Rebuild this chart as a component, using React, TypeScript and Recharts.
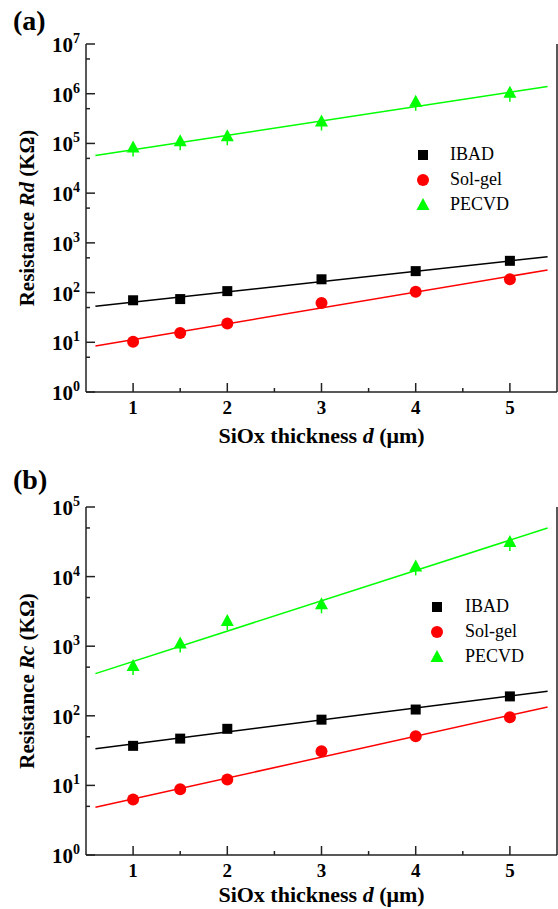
import { ScatterChart, Scatter, XAxis, YAxis, Legend, ReferenceLine } from "recharts";

// SiOx thickness d (um)
const thickness = [1, 1.5, 2, 3, 4, 5];
const fitX = [0.6, 5.4];

// (a) Rd, KOhm
const rdIbad = [70, 74, 107, 185, 270, 435];
const rdSolgel = [10.2, 15.3, 24, 62, 104, 186];
const rdPecvd = [83000, 110000, 140000, 275000, 690000, 1050000];
const rdIbadFit = [53, 525];
const rdSolgelFit = [8.4, 285];
const rdPecvdFit = [57000, 1400000];

// (b) Rc, KOhm
const rcIbad = [37, 47, 65, 88, 123, 190];
const rcSolgel = [6.25, 8.8, 12.2, 31, 51, 95];
const rcPecvd = [520, 1090, 2300, 4000, 14000, 31400];
const rcIbadFit = [33.7, 225];
const rcSolgelFit = [4.84, 134];
const rcPecvdFit = [404, 49900];

const xTicks = [1, 1.5, 2, 2.5, 3, 3.5, 4, 4.5, 5];
const yTicksA = [1, 5, 10, 50, 100, 500, 1e3, 5e3, 1e4, 5e4, 1e5, 5e5, 1e6, 5e6, 1e7];
const yTicksB = [1, 5, 10, 50, 100, 500, 1e3, 5e3, 1e4, 5e4, 1e5];

const FONT = "'Liberation Serif', 'DejaVu Serif', serif";
const AXIS = "#222";
const GREEN = "#00ff00";
const RED = "#ff0000";

const pts = (xs: number[], ys: number[]) => xs.map((x, i) => ({ x, y: ys[i] }));

const Square = (p: any) => <rect x={p.cx - 5} y={p.cy - 5} width={10} height={10} fill="#000" />;
const Circle = (p: any) => <circle cx={p.cx} cy={p.cy} r={6} fill={RED} />;
const Triangle = (p: any) => (
  <g>
    <line x1={p.cx} x2={p.cx} y1={p.cy} y2={p.cy + 9} stroke={GREEN} strokeWidth={1.5} />
    <path d={`M${p.cx},${p.cy - 7}L${p.cx + 6.5},${p.cy + 5}L${p.cx - 6.5},${p.cy + 5}Z`} fill={GREEN} />
  </g>
);
const NoDot = () => <g />;

const isMajor = (v: number) => Math.abs(Math.log10(v) - Math.round(Math.log10(v))) < 1e-6;

const YTick = (p: any) => {
  const v = p.payload.value;
  const major = isMajor(v);
  return (
    <g>
      <line x1={p.x} x2={p.x + (major ? 9 : 4)} y1={p.y} y2={p.y} stroke={AXIS} strokeWidth={1.5} />
      {major && (
        <text x={p.x - 6} y={p.y + 8} textAnchor="end" fontFamily={FONT} fontWeight="bold" fill="#000">
          <tspan fontSize={21}>10</tspan>
          <tspan fontSize={14} dy={-9}>{Math.round(Math.log10(v))}</tspan>
        </text>
      )}
    </g>
  );
};

const XTick = (p: any) => {
  const v = p.payload.value;
  const major = Number.isInteger(v);
  return (
    <g>
      <line x1={p.x} x2={p.x} y1={p.y} y2={p.y - (major ? 9 : 4)} stroke={AXIS} strokeWidth={1.5} />
      {major && (
        <text x={p.x} y={p.y + 22} textAnchor="middle" fontFamily={FONT} fontWeight="bold" fontSize={19} fill="#000">
          {v}
        </text>
      )}
    </g>
  );
};

const TopTick = (p: any) => {
  const major = Number.isInteger(p.payload.value);
  return <line x1={p.x} x2={p.x} y1={p.y} y2={p.y + (major ? 9 : 4)} stroke={AXIS} strokeWidth={1.5} />;
};

const makeXTitle = (dy: number) => (p: any) => {
  const { x, y, width } = p.viewBox;
  return (
    <text x={x + width / 2} y={y + dy} textAnchor="middle" fontFamily={FONT} fontWeight="bold" fontSize={22} fill="#000">
      SiOx thickness{" "}
      <tspan fontStyle="italic">d</tspan>
      {" "}(μm)
    </text>
  );
};

const makeYTitle = (sym: string) => (p: any) => {
  const { y, height } = p.viewBox;
  const cx = 34;
  const cy = y + height / 2;
  return (
    <text x={cx} y={cy} transform={`rotate(-90, ${cx}, ${cy})`} textAnchor="middle" fontFamily={FONT} fontWeight="bold" fontSize={21} fill="#000">
      Resistance{" "}
      <tspan fontStyle="italic">{sym}</tspan>
      {" "}(KΩ)
    </text>
  );
};

const legendItems = [
  { name: "IBAD", marker: <rect x={5} y={5} width={10} height={10} fill="#000" /> },
  { name: "Sol-gel", marker: <circle cx={10} cy={10} r={6} fill={RED} /> },
  { name: "PECVD", marker: <path d="M10,3L16.5,15L3.5,15Z" fill={GREEN} /> },
];

const makeLegend = (gap: number) => () => (
  <div style={{ fontFamily: FONT, fontSize: 18, color: "#000" }}>
    {legendItems.map((it) => (
      <div key={it.name} style={{ display: "flex", alignItems: "center", height: 25 }}>
        <svg width={20} height={20} style={{ marginRight: gap }}>{it.marker}</svg>
        <span>{it.name}</span>
      </div>
    ))}
  </div>
);

interface PanelProps {
  height: number;
  top: number;
  xAxisHeight: number;
  titleDy: number;
  yMax: number;
  yTicks: number[];
  sym: string;
  ibad: number[];
  solgel: number[];
  pecvd: number[];
  ibadFit: number[];
  solgelFit: number[];
  pecvdFit: number[];
  legendPos: { left: number; top: number; gap: number };
}

function Panel(props: PanelProps) {
  const { legendPos } = props;
  return (
    <ScatterChart width={558} height={props.height} margin={{ top: props.top, right: 1, bottom: 0, left: 0 }}>
      <XAxis
        type="number"
        dataKey="x"
        domain={[0.5, 5.5]}
        ticks={xTicks}
        interval={0}
        height={props.xAxisHeight}
        tickSize={0}
        tickMargin={0}
        tick={XTick}
        axisLine={{ stroke: AXIS, strokeWidth: 1.5 }}
        label={{ content: makeXTitle(props.titleDy) }}
      />
      <XAxis
        xAxisId="top"
        orientation="top"
        type="number"
        dataKey="x"
        domain={[0.5, 5.5]}
        ticks={xTicks}
        interval={0}
        height={0}
        tickSize={0}
        tickMargin={0}
        tick={TopTick}
        axisLine={{ stroke: AXIS, strokeWidth: 1.5 }}
      />
      <YAxis
        type="number"
        dataKey="y"
        scale="log"
        domain={[1, props.yMax]}
        allowDataOverflow
        ticks={props.yTicks}
        interval={0}
        width={86}
        tickSize={0}
        tickMargin={0}
        tick={YTick}
        axisLine={{ stroke: AXIS, strokeWidth: 1.5 }}
        label={{ content: makeYTitle(props.sym) }}
      />
      <ReferenceLine x={5.5} stroke={AXIS} strokeWidth={1.5} />
      <Legend
        layout="horizontal"
        verticalAlign="middle"
        align="center"
        content={makeLegend(legendPos.gap)}
        wrapperStyle={{ left: legendPos.left, top: legendPos.top, width: 130 }}
      />
      <Scatter name="IBAD fit" data={pts(fitX, props.ibadFit)} line={{ stroke: "#000", strokeWidth: 1.5 }} shape={NoDot} isAnimationActive={false} legendType="none" />
      <Scatter name="Sol-gel fit" data={pts(fitX, props.solgelFit)} line={{ stroke: RED, strokeWidth: 1.5 }} shape={NoDot} isAnimationActive={false} legendType="none" />
      <Scatter name="PECVD fit" data={pts(fitX, props.pecvdFit)} line={{ stroke: GREEN, strokeWidth: 1.5 }} shape={NoDot} isAnimationActive={false} legendType="none" />
      <Scatter name="IBAD" data={pts(thickness, props.ibad)} shape={Square} isAnimationActive={false} />
      <Scatter name="Sol-gel" data={pts(thickness, props.solgel)} shape={Circle} isAnimationActive={false} />
      <Scatter name="PECVD" data={pts(thickness, props.pecvd)} shape={Triangle} isAnimationActive={false} />
    </ScatterChart>
  );
}

const panelLabel = (text: string, top: number) => (
  <div style={{ position: "absolute", left: 13, top, fontFamily: FONT, fontWeight: "bold", fontSize: 28, lineHeight: "32px" }}>
    {text}
  </div>
);

export default function App() {
  return (
    <div style={{ position: "absolute", left: 0, top: 0, width: 558, height: 909, background: "#fff" }}>
      {panelLabel("(a)", 5)}
      {panelLabel("(b)", 464)}
      <div style={{ position: "absolute", left: 0, top: 0 }}>
        <Panel
          height={455}
          top={44}
          xAxisHeight={63}
          titleDy={51}
          yMax={1e7}
          yTicks={yTicksA}
          sym="Rd"
          ibad={rdIbad}
          solgel={rdSolgel}
          pecvd={rdPecvd}
          ibadFit={rdIbadFit}
          solgelFit={rdSolgelFit}
          pecvdFit={rdPecvdFit}
          legendPos={{ left: 413, top: 142, gap: 17 }}
        />
      </div>
      <div style={{ position: "absolute", left: 0, top: 455 }}>
        <Panel
          height={454}
          top={52}
          xAxisHeight={54}
          titleDy={47}
          yMax={1e5}
          yTicks={yTicksB}
          sym="Rc"
          ibad={rcIbad}
          solgel={rcSolgel}
          pecvd={rcPecvd}
          ibadFit={rcIbadFit}
          solgelFit={rcSolgelFit}
          pecvdFit={rcPecvdFit}
          legendPos={{ left: 427, top: 139, gap: 18 }}
        />
      </div>
    </div>
  );
}
